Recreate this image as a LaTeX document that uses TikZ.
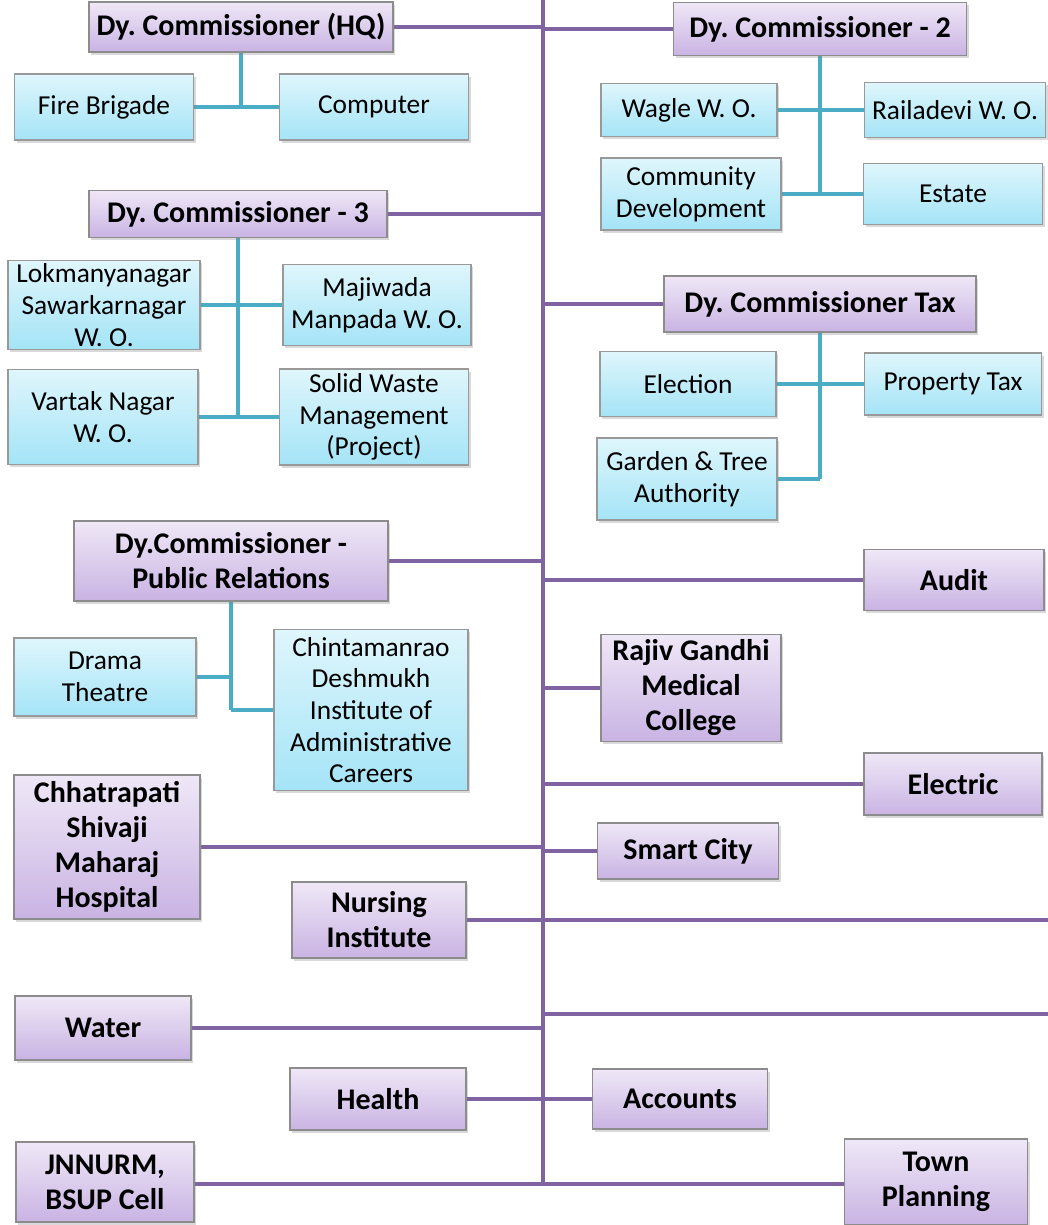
\documentclass[tikz,border=0pt]{standalone}
\usepackage{fontspec}
\setmainfont{Carlito}
\usepackage{tikz}
\usetikzlibrary{positioning,shadows,backgrounds}
\frenchspacing
\definecolor{lilactop}{HTML}{EFE8F7}
\definecolor{lilacbot}{HTML}{C9B3E3}
\definecolor{skytop}{HTML}{DFF6FC}
\definecolor{skybot}{HTML}{A4E4F7}
\definecolor{plumline}{HTML}{8064A2}
\definecolor{cyanline}{HTML}{4BACC6}
\tikzset{
  boxsize/.style 2 args={minimum width=#1, minimum height=#2},
  chief/.style={
    rectangle,
    draw=black!45, line width=0.6pt,
    top color=lilactop, bottom color=lilacbot,
    drop shadow={shadow xshift=1.2pt, shadow yshift=-1.4pt, opacity=0.3},
    align=center, inner sep=1pt,
    font=\fontsize{15}{17.5}\selectfont\bfseries},
  unit/.style={
    rectangle,
    draw=black!40, line width=0.6pt,
    top color=skytop, bottom color=skybot,
    drop shadow={shadow xshift=1.2pt, shadow yshift=-1.4pt, opacity=0.3},
    align=center, inner sep=1pt,
    font=\fontsize{13.7}{15.8}\selectfont},
  trunk/.style={draw=plumline, line width=2.4pt},
  twig/.style={draw=cyanline, line width=2.4pt}
}
\begin{document}
\begin{tikzpicture}[x=0.5pt, y=-0.5pt]
    \useasboundingbox (0,0) rectangle (1048,1225);
    \coordinate (stem) at (543,0);
    \coordinate (foot) at (543,1184);
    \coordinate (rimA) at (1048,920);
    \coordinate (rimB) at (1048,1014);

    % left side
    \node[chief, boxsize={152pt}{25pt}] (hq) at (241,27) {Dy. Commissioner (HQ)};
    \node[unit, boxsize={89.5pt}{33pt}] (fire) at (104,107) {Fire Brigade};
    \node[unit, boxsize={94.5pt}{33pt}] (computer) at (374,107) {Computer};
    \node[chief, boxsize={149pt}{23.5pt}] (dcthree) at (238,214) {Dy. Commissioner - 3};
    \node[unit, boxsize={96pt}{44.5pt}] (lokmanya) at (104,305) {Lokmanyanagar\\Sawarkarnagar\\W. O.};
    \node[unit, boxsize={94pt}{40.5pt}] (majiwada) at (377,305) {Majiwada\\Manpada W. O.};
    \node[unit, boxsize={95pt}{47.5pt}] (vartak) at (103,417) {Vartak Nagar\\W. O.};
    \node[unit, boxsize={94.5pt}{48pt}] (solid) at (374,417) {Solid Waste\\Management\\(Project)};
    \node[chief, boxsize={157pt}{40pt}] (dcpr) at (231,561) {Dy.Commissioner -\\Public Relations};
    \node[unit, boxsize={91pt}{39pt}] (drama) at (105,677) {Drama\\Theatre};
    \node[unit, boxsize={97pt}{80.5pt}] (chinta) at (371,710) {Chintamanrao\\Deshmukh\\Institute of\\Administrative\\Careers};
    \node[chief, boxsize={93pt}{72pt}] (csmh) at (107,847) {Chhatrapati\\Shivaji\\Maharaj\\Hospital};
    \node[chief, boxsize={87pt}{38pt}] (nursing) at (379,920) {Nursing\\Institute};
    \node[chief, boxsize={88pt}{32pt}] (water) at (103,1028) {Water};
    \node[chief, boxsize={88pt}{31pt}] (health) at (378,1099) {Health};
    \node[chief, boxsize={89pt}{40pt}] (jnnurm) at (105,1182) {JNNURM,\\BSUP Cell};

    % right side
    \node[chief, boxsize={146.5pt}{26.5pt}] (dctwo) at (820,29) {Dy. Commissioner - 2};
    \node[unit, boxsize={88pt}{26.5pt}] (wagle) at (689,110) {Wagle W. O.};
    \node[unit, boxsize={90.5pt}{27.5pt}] (railadevi) at (955,110) {Railadevi W. O.};
    \node[unit, boxsize={90pt}{36pt}] (community) at (691,194) {Community\\Development};
    \node[unit, boxsize={89.5pt}{30.5pt}] (estate) at (953,194) {Estate};
    \node[chief, boxsize={156pt}{28pt}] (dctax) at (820,304) {Dy. Commissioner Tax};
    \node[unit, boxsize={88pt}{32.5pt}] (election) at (688,384) {Election};
    \node[unit, boxsize={88.5pt}{31pt}] (property) at (953,384) {Property Tax};
    \node[unit, boxsize={90pt}{41pt}] (garden) at (687,479) {Garden \& Tree\\Authority};
    \node[chief, boxsize={90pt}{30.5pt}] (audit) at (954,580) {Audit};
    \node[chief, boxsize={90pt}{53.5pt}] (rajiv) at (691,688) {Rajiv Gandhi\\Medical\\College};
    \node[chief, boxsize={89pt}{31pt}] (electric) at (953,784) {Electric};
    \node[chief, boxsize={90.5pt}{28pt}] (smart) at (688,851) {Smart City};
    \node[chief, boxsize={87.5pt}{30pt}] (accounts) at (680,1099) {Accounts};
    \node[chief, boxsize={91.5pt}{43pt}] (town) at (936,1182) {Town\\Planning};

    \begin{scope}[on background layer]
    \draw[trunk] (stem) -- (foot);
    \draw[trunk] (hq.east) -- (hq.east -| stem);
    \draw[trunk] (dctwo.west -| stem) -- (dctwo.west);
    \draw[trunk] (dcthree.east) -- (dcthree.east -| stem);
    \draw[trunk] (dctax.west -| stem) -- (dctax.west);
    \draw[trunk] (dcpr.east) -- (dcpr.east -| stem);
    \draw[trunk] (audit.west -| stem) -- (audit.west);
    \draw[trunk] (rajiv.west -| stem) -- (rajiv.west);
    \draw[trunk] (electric.west -| stem) -- (electric.west);
    \draw[trunk] (csmh.east) -- (csmh.east -| stem);
    \draw[trunk] (smart.west -| stem) -- (smart.west);
    \draw[trunk] (nursing.east) -- (rimA);
    \draw[trunk] (rimB -| stem) -- (rimB);
    \draw[trunk] (water.east) -- (water.east -| stem);
    \draw[trunk] (health.east) -- (accounts.west);
    \draw[trunk] (jnnurm.east |- foot) -- (foot);
    \draw[trunk] (foot) -- (foot -| town.west);

    \draw[twig] (hq.south) -- (hq.south |- fire.east);
    \draw[twig] (fire.east) -- (computer.west);
    \draw[twig] (dctwo.south) -- (dctwo.south |- community.east);
    \draw[twig] (wagle.east) -- (railadevi.west);
    \draw[twig] (community.east) -- (estate.west);
    \draw[twig] (dcthree.south) -- (dcthree.south |- vartak.east);
    \draw[twig] (lokmanya.east) -- (majiwada.west);
    \draw[twig] (vartak.east) -- (solid.west);
    \draw[twig] (dctax.south) -- (dctax.south |- garden.east);
    \draw[twig] (election.east) -- (property.west);
    \draw[twig] (garden.east) -- (dctax.south |- garden.east);
    \draw[twig] (dcpr.south) -- (dcpr.south |- chinta.west);
    \draw[twig] (drama.east) -- (dcpr.south |- drama.east);
    \draw[twig] (dcpr.south |- chinta.west) -- (chinta.west);
    \end{scope}
\end{tikzpicture}
\end{document}
